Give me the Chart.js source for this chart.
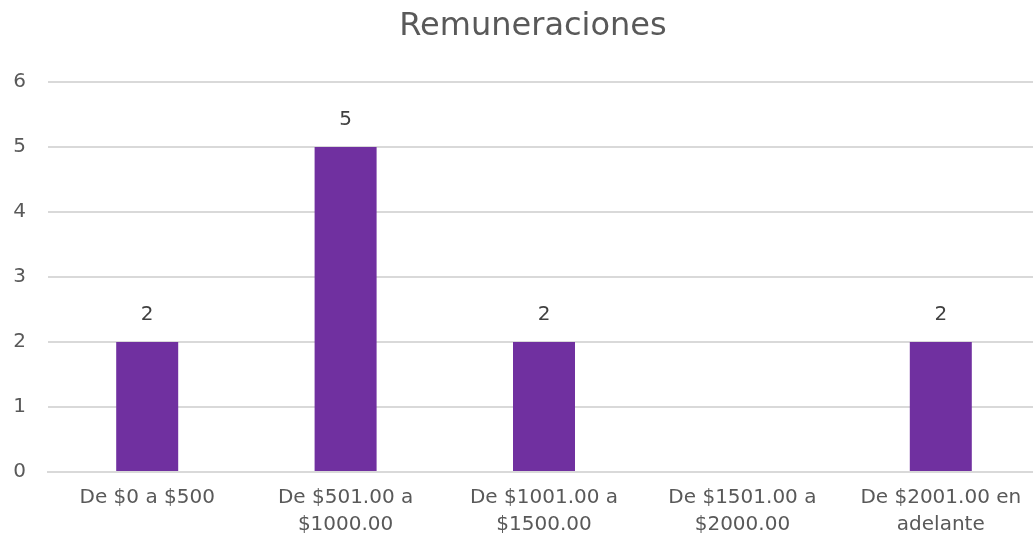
<!DOCTYPE html>
<html>
<head>
<meta charset="utf-8">
<script src="https://cdn.jsdelivr.net/npm/chart.js@4"></script>
<style>
html,body{margin:0;padding:0;background:#fff;overflow:hidden;}
#wrap{position:relative;width:1066px;height:541px;}
</style>
</head>
<body>
<div id="wrap"><canvas id="c"></canvas></div>
<script>
const chartTitle = "Remuneraciones";
const categories = [
  ["De $0 a $500"],
  ["De $501.00 a", "$1000.00"],
  ["De $1001.00 a", "$1500.00"],
  ["De $1501.00 a", "$2000.00"],
  ["De $2001.00 en", "adelante"]
];
const values = [2, 5, 2, null, 2];
const yTicks = [0, 1, 2, 3, 4, 5, 6];

const FONT = "'DejaVu Sans', sans-serif";

const labelPlugin = {
  id: 'barLabels',
  afterDatasetsDraw(chart) {
    const ctx = chart.ctx;
    const meta = chart.getDatasetMeta(0);
    ctx.save();
    ctx.font = "20px " + FONT;
    ctx.fillStyle = "#404040";
    ctx.textAlign = "center";
    ctx.textBaseline = "middle";
    meta.data.forEach((bar, i) => {
      const v = chart.data.datasets[0].data[i];
      if (v === null || v === undefined) return;
      ctx.fillText(String(v), bar.x, bar.y - 27);
    });
    ctx.restore();
  }
};

const titlePlugin = {
  id: 'centeredTitle',
  afterDraw(chart) {
    const ctx = chart.ctx;
    ctx.save();
    ctx.font = "32px " + FONT;
    ctx.fillStyle = "#595959";
    ctx.textAlign = "center";
    ctx.textBaseline = "middle";
    ctx.fillText(chartTitle, chart.width / 2, 27);
    ctx.restore();
  }
};

new Chart(document.getElementById('c'), {
  type: 'bar',
  data: {
    labels: categories,
    datasets: [{
      data: values,
      backgroundColor: '#7030a0',
      barPercentage: 0.625,
      categoryPercentage: 0.5
    }]
  },
  options: {
    responsive: true,
    maintainAspectRatio: false,
    animation: false,
    layout: { padding: { left: 0, right: 26, top: 82, bottom: 0 } },
    plugins: {
      legend: { display: false },
      tooltip: { enabled: false },
      title: { display: false }
    },
    scales: {
      x: {
        afterFit(axis) { axis.height = 69; },
        grid: { display: false, drawTicks: false },
        border: { display: true, color: '#d9d9d9', width: 2 },
        ticks: {
          color: '#595959',
          font: { family: FONT, size: 20, lineHeight: 1.35 },
          padding: 12,
          maxRotation: 0,
          autoSkip: false
        }
      },
      y: {
        min: 0,
        max: 6,
        afterFit(axis) { axis.width = 48; },
        afterBuildTicks(axis) { axis.ticks = yTicks.map(v => ({ value: v })); },
        grid: { color: '#d9d9d9', lineWidth: 2, drawTicks: false },
        border: { display: false },
        ticks: {
          color: '#595959',
          font: { family: FONT, size: 20 },
          padding: 22
        }
      }
    }
  },
  plugins: [labelPlugin, titlePlugin]
});
</script>
</body>
</html>
